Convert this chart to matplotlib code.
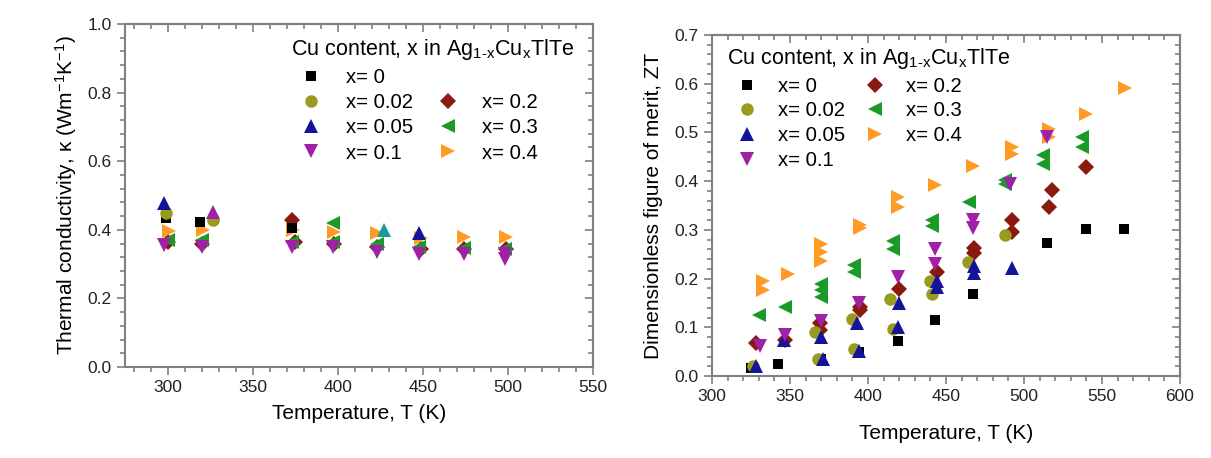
import matplotlib
matplotlib.use("Agg")
import matplotlib.pyplot as plt
from matplotlib.lines import Line2D
from matplotlib.ticker import MultipleLocator, FormatStrFormatter

plt.rcParams['font.family'] = ['Liberation Sans', 'DejaVu Sans']
plt.rcParams['mathtext.fontset'] = 'custom'
plt.rcParams['mathtext.rm'] = 'Liberation Sans'
plt.rcParams['mathtext.it'] = 'Liberation Sans:italic'

# ---------------- data ----------------
labels = ["x= 0", "x= 0.02", "x= 0.05", "x= 0.1", "x= 0.2", "x= 0.3", "x= 0.4"]
markers = ["s", "o", "^", "v", "D", "<", ">"]
colors = ["#000000", "#9a9a20", "#14149a", "#a020a8", "#8b1a0e", "#1a9a26", "#ff9a24"]

# Thermal conductivity (left)
k_T_0 = [299, 319, 373]
k_v_0 = [0.434, 0.424, 0.405]
k_T_002 = [299, 327]
k_v_002 = [0.448, 0.430]
k_T_005 = [298, 448]
k_v_005 = [0.477, 0.390]
k_T_01 = [298, 320, 373, 397, 423, 448, 474, 498, 498]
k_v_01 = [0.355, 0.350, 0.350, 0.350, 0.335, 0.330, 0.330, 0.330, 0.315]
k_T_02 = [300, 320, 373, 375, 398, 423, 449, 474, 499]
k_v_02 = [0.365, 0.360, 0.430, 0.365, 0.360, 0.350, 0.345, 0.345, 0.345]
k_T_03 = [300, 320, 373, 397, 397, 423, 448, 474, 498]
k_v_03 = [0.370, 0.370, 0.365, 0.420, 0.365, 0.360, 0.350, 0.347, 0.345]
k_T_04 = [301, 321, 374, 398, 423, 449, 474, 499]
k_v_04 = [0.397, 0.400, 0.400, 0.395, 0.390, 0.375, 0.380, 0.380]
k_T_extra_purple = [327]
k_v_extra_purple = [0.453]
k_T_extra_teal = [427]
k_v_extra_teal = [0.398]

# ZT (right)
z_T_0 = [325, 342, 370, 394, 419, 443, 467, 515, 540, 564]
z_v_0 = [0.017, 0.024, 0.034, 0.050, 0.072, 0.114, 0.169, 0.272, 0.302, 0.302]
z_T_002 = [326, 368, 366, 391, 390, 416, 414, 441, 440, 464, 488]
z_v_002 = [0.020, 0.034, 0.091, 0.055, 0.118, 0.096, 0.159, 0.169, 0.196, 0.235, 0.289]
z_T_005 = [328, 346, 371, 370, 394, 393, 419, 420, 444, 444, 468, 468, 492]
z_v_005 = [0.020, 0.074, 0.034, 0.081, 0.051, 0.108, 0.101, 0.149, 0.183, 0.196, 0.212, 0.225, 0.222]
z_T_01 = [331, 347, 370, 394, 419, 443, 443, 467, 467, 491, 515]
z_v_01 = [0.061, 0.085, 0.112, 0.149, 0.203, 0.230, 0.260, 0.303, 0.320, 0.395, 0.490]
z_T_02 = [328, 347, 369, 369, 395, 395, 420, 444, 468, 468, 492, 492, 516, 518, 540]
z_v_02 = [0.068, 0.074, 0.095, 0.108, 0.135, 0.142, 0.179, 0.213, 0.252, 0.262, 0.296, 0.320, 0.347, 0.381, 0.429]
z_T_03 = [330, 347, 370, 370, 370, 391, 391, 416, 416, 441, 441, 465, 488, 488, 512, 512, 537, 537]
z_v_03 = [0.125, 0.142, 0.162, 0.176, 0.189, 0.213, 0.228, 0.260, 0.277, 0.307, 0.320, 0.358, 0.395, 0.402, 0.436, 0.453, 0.471, 0.490]
z_T_04 = [333, 333, 349, 370, 370, 370, 395, 395, 419, 419, 443, 467, 492, 492, 516, 516, 540, 565]
z_v_04 = [0.176, 0.196, 0.210, 0.237, 0.255, 0.270, 0.303, 0.310, 0.347, 0.367, 0.392, 0.432, 0.456, 0.470, 0.490, 0.507, 0.537, 0.592]

k_series = [(k_T_0, k_v_0), (k_T_002, k_v_002), (k_T_005, k_v_005), (k_T_01, k_v_01),
            (k_T_02, k_v_02), (k_T_03, k_v_03), (k_T_04, k_v_04)]
z_series = [(z_T_0, z_v_0), (z_T_002, z_v_002), (z_T_005, z_v_005), (z_T_01, z_v_01),
            (z_T_02, z_v_02), (z_T_03, z_v_03), (z_T_04, z_v_04)]

legend_title = r"Cu content, x in Ag$_{\mathrm{1\text{-}x}}$Cu$_{\mathrm{x}}$TlTe"

# ---------------- figure ----------------
fig = plt.figure(figsize=(12.11, 4.58), dpi=100)
ax1 = fig.add_axes([125 / 1211, 1 - 367 / 458, 468 / 1211, 343 / 458])
ax2 = fig.add_axes([712 / 1211, 1 - 376 / 458, 468 / 1211, 341 / 458])

spine_col = "#808080"
order = [4, 5, 6, 0, 1, 2, 3]
LBL = 15
LEG = 14.6
LEG_T = 15.5


def msize(m):
    return {"s": 7.5, "o": 9, "D": 8}.get(m, 10)


def style(ax, xmaj, xmin, ymaj, ymin):
    ax.xaxis.set_major_locator(MultipleLocator(xmaj))
    ax.xaxis.set_minor_locator(MultipleLocator(xmin))
    ax.yaxis.set_major_locator(MultipleLocator(ymaj))
    ax.yaxis.set_minor_locator(MultipleLocator(ymin))
    ax.yaxis.set_major_formatter(FormatStrFormatter("%.1f"))
    for s in ax.spines.values():
        s.set_color(spine_col)
        s.set_linewidth(1.5)
    ax.tick_params(which="both", direction="out", colors=spine_col,
                   labelcolor="#222222", labelsize=12.5, width=1.2)
    ax.tick_params(which="major", length=6)
    ax.tick_params(which="minor", length=3.5)
    sx = ax.secondary_xaxis("top")
    sy = ax.secondary_yaxis("right")
    sx.xaxis.set_major_locator(MultipleLocator(xmaj))
    sx.xaxis.set_minor_locator(MultipleLocator(xmin))
    sy.yaxis.set_major_locator(MultipleLocator(ymaj))
    sy.yaxis.set_minor_locator(MultipleLocator(ymin))
    for sec in (sx, sy):
        sec.tick_params(which="both", direction="in", colors=spine_col,
                        labelleft=False, labelright=False, labeltop=False,
                        labelbottom=False, width=1.2)
        sec.tick_params(which="major", length=6)
        sec.tick_params(which="minor", length=3.5)
        for s in sec.spines.values():
            s.set_color(spine_col)
            s.set_linewidth(1.5)


# Left panel
for i in order:
    T, v = k_series[i]
    ax1.plot(T, v, linestyle="none", marker=markers[i], color=colors[i],
             markersize=msize(markers[i]), markeredgewidth=0)
ax1.plot(k_T_extra_purple, k_v_extra_purple, linestyle="none", marker="^",
         color="#a020a8", markersize=10, markeredgewidth=0)
ax1.plot(k_T_extra_teal, k_v_extra_teal, linestyle="none", marker="^",
         color="#1a9a9a", markersize=10, markeredgewidth=0)
ax1.set_xlim(275, 550)
ax1.set_ylim(0.0, 1.0)
style(ax1, 50, 10, 0.2, 0.04)
ax1.set_xlabel("Temperature, T (K)", fontsize=LBL, labelpad=6)
ax1.set_ylabel(r"Thermal conductivity, κ (Wm$^{-1}$K$^{-1}$)", fontsize=LBL, labelpad=6)

handles = [Line2D([], [], linestyle="none", marker=markers[i], color=colors[i],
                  markersize=msize(markers[i]), markeredgewidth=0) for i in range(7)]
blank = Line2D([], [], linestyle="none", marker=None)
h_left = handles[:4] + [blank] + handles[4:]
l_left = labels[:4] + [""] + labels[4:]
ax1.legend(h_left, l_left, ncol=2, title=legend_title, frameon=False,
           fontsize=LEG, title_fontsize=LEG_T, loc="upper left",
           bbox_to_anchor=((275 - 125) / 468, 1.0 + 3 / 343), handletextpad=0.7,
           columnspacing=0.7, labelspacing=0.3, borderaxespad=0.4,
           alignment="left")

# Right panel
for i in order:
    T, v = z_series[i]
    ax2.plot(T, v, linestyle="none", marker=markers[i], color=colors[i],
             markersize=msize(markers[i]), markeredgewidth=0)
ax2.set_xlim(300, 600)
ax2.set_ylim(0.0, 0.7)
style(ax2, 50, 10, 0.1, 0.02)
ax2.set_xlabel("Temperature, T (K)", fontsize=LBL, labelpad=14)
ax2.set_ylabel("Dimensionless figure of merit, ZT", fontsize=LBL, labelpad=8)
ax2.legend(handles, labels, ncol=2, title=legend_title, frameon=False,
           fontsize=LEG, title_fontsize=LEG_T, loc="upper left",
           bbox_to_anchor=((719 - 712) / 468, 1.0 - 3 / 341), handletextpad=0.5,
           columnspacing=0.5, labelspacing=0.28, borderaxespad=0.0,
           alignment="left")

fig.savefig("out.png", dpi=100)
